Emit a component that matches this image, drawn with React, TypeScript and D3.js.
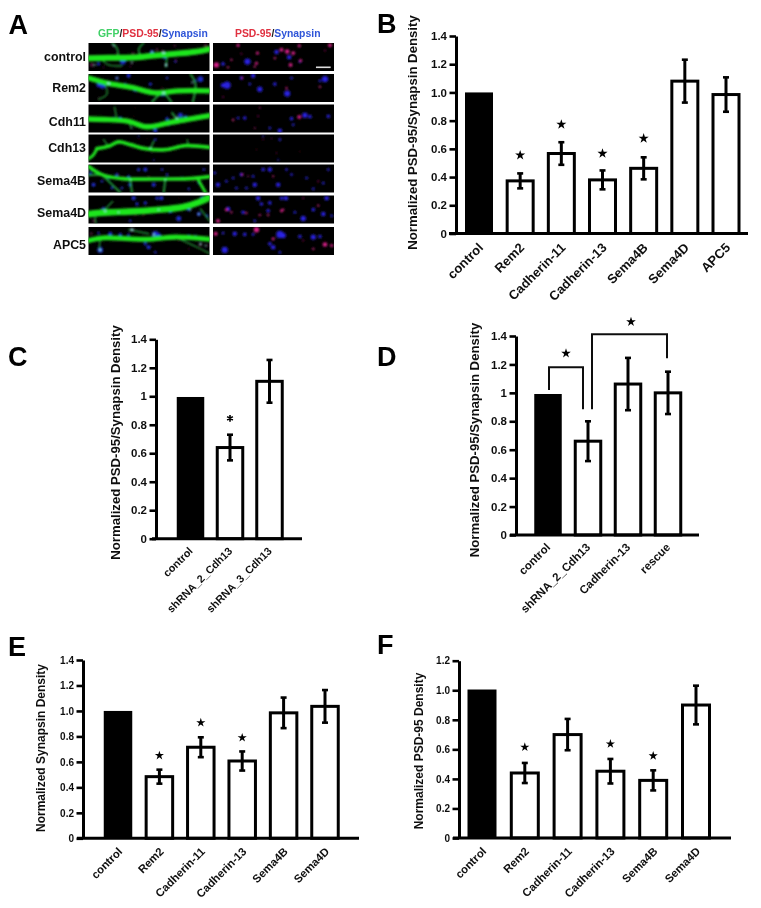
import React, { useEffect, useRef } from "react";
import * as d3 from "d3";

const FONT = "'Liberation Sans', Arial, sans-serif";

// ---------- bar chart data ----------
const bCategories = ["control", "Rem2", "Cadherin-11", "Cadherin-13", "Sema4B", "Sema4D", "APC5"];
const bValues = [1.0, 0.373, 0.567, 0.38, 0.462, 1.08, 0.985];
const bErrors = [0, 0.053, 0.08, 0.067, 0.078, 0.152, 0.122];
const bStars = [null, 0.555, 0.773, 0.567, 0.674, null, null];

const cCategories = ["control", "shRNA_2_Cdh13", "shRNA_3_Cdh13"];
const cValues = [0.995, 0.64, 1.105];
const cErrors = [0, 0.09, 0.15];
const cStars = [null, 0.845, null];

const dCategories = ["control", "shRNA_2_Cdh13", "Cadherin-13", "rescue"];
const dValues = [0.992, 0.66, 1.062, 1.0];
const dErrors = [0, 0.14, 0.184, 0.149];
const dStars = [null, null, null, null];
const dBracketLevels = { a0: 1.02, aTop: 1.18, a1: 0.884, b0: 0.884, bTop: 1.412, b1: 1.243, starA: 1.278, starB: 1.5 };

const eCategories = ["control", "Rem2", "Cadherin-11", "Cadherin-13", "Sema4B", "Sema4D"];
const eValues = [1.0, 0.484, 0.715, 0.607, 0.985, 1.036];
const eErrors = [0, 0.055, 0.078, 0.075, 0.12, 0.128];
const eStars = [null, 0.65, 0.908, 0.79, null, null];

const fCategories = ["control", "Rem2", "Cadherin-11", "Cadherin-13", "Sema4B", "Sema4D"];
const fValues = [1.005, 0.44, 0.7, 0.452, 0.39, 0.9];
const fErrors = [0, 0.068, 0.106, 0.083, 0.068, 0.131];
const fStars = [null, 0.615, null, 0.637, 0.556, null];

const ticks14 = [0, 0.2, 0.4, 0.6, 0.8, 1.0, 1.2, 1.4];
const ticks12 = [0, 0.2, 0.4, 0.6, 0.8, 1.0, 1.2];

// ---------- micrograph data (image units: 362 wide, 83 tall) ----------
type Pt = [number, number];
type Spot = [number, number, number];
const rowNames = ["control", "Rem2", "Cdh11", "Cdh13", "Sema4B", "Sema4D", "APC5"];
const rowLabelY = [56, 87, 121, 147, 180, 212, 244];

const dendrites: { w: number; pts: Pt[] }[][] = [
  [
    { w: 5, pts: [[70, 0], [85, 15], [88, 42]] },
    { w: 5, pts: [[160, 42], [150, 20], [165, 0]] },
    { w: 5, pts: [[235, 35], [232, 70]] },
    { w: 4, pts: [[40, 50], [60, 65], [100, 68]] },
    { w: 18, pts: [[0, 45], [60, 44], [130, 43], [190, 38], [260, 32], [320, 26], [362, 18]] },
  ],
  [
    { w: 6, pts: [[190, 83], [222, 58], [248, 83]] },
    { w: 6, pts: [[305, 0], [320, 30], [312, 83]] },
    { w: 4, pts: [[50, 30], [55, 60], [30, 75]] },
    { w: 16, pts: [[0, 12], [60, 28], [130, 40], [200, 56], [270, 50], [362, 50]] },
  ],
  [
    { w: 4, pts: [[78, 8], [85, 45]] },
    { w: 6, pts: [[250, 25], [265, 45]] },
    { w: 4, pts: [[120, 50], [128, 70]] },
    { w: 16, pts: [[0, 43], [60, 45], [120, 50], [175, 66], [250, 52], [310, 42], [362, 33]] },
  ],
  [
    { w: 4, pts: [[60, 35], [45, 15]] },
    { w: 5, pts: [[185, 42], [195, 20]] },
    { w: 4, pts: [[300, 35], [295, 15]] },
    { w: 11, pts: [[25, 42], [60, 35], [90, 22], [125, 30], [170, 42], [230, 45], [290, 33], [362, 38]] },
    { w: 9, pts: [[0, 72], [15, 60], [25, 42]] },
  ],
  [
    { w: 6, pts: [[0, 32], [40, 30]] },
    { w: 6, pts: [[40, 30], [95, 83]] },
    { w: 6, pts: [[125, 42], [130, 83]] },
    { w: 6, pts: [[230, 43], [225, 83]] },
    { w: 9, pts: [[325, 40], [350, 83]] },
    { w: 11, pts: [[0, 6], [40, 30], [100, 42], [200, 43], [300, 42], [362, 36]] },
  ],
  [
    { w: 4, pts: [[72, 18], [48, 42]] },
    { w: 4, pts: [[20, 65], [22, 83]] },
    { w: 4, pts: [[335, 40], [362, 75]] },
    { w: 20, pts: [[0, 55], [60, 50], [120, 48], [200, 43], [280, 35], [330, 20], [362, 5]] },
  ],
  [
    { w: 4, pts: [[260, 30], [325, 60], [362, 78]] },
    { w: 4, pts: [[35, 35], [32, 65]] },
    { w: 4, pts: [[120, 8], [180, 20]] },
    { w: 15, pts: [[0, 40], [50, 32], [120, 35], [180, 36], [260, 30], [362, 36]] },
  ],
];

const blueSpots: Spot[][] = [
  [[103, 55, 7], [190, 27, 5], [228, 42, 5], [30, 62, 4], [260, 55, 3]],
  [[42, 33, 8], [30, 33, 5], [85, 12, 4], [120, 5, 5], [140, 45, 6], [222, 58, 7], [185, 30, 4], [335, 15, 7], [320, 20, 3], [235, 12, 3], [110, 30, 3]],
  [[75, 40, 3], [95, 40, 4], [200, 78, 5], [235, 42, 4], [275, 32, 6], [290, 36, 4], [345, 35, 4], [170, 70, 3], [240, 60, 3]],
  [[200, 15, 3], [150, 5, 2], [195, 75, 2]],
  [[85, 30, 4], [120, 35, 3], [150, 15, 4], [170, 15, 5], [125, 60, 5], [15, 60, 5], [195, 60, 5], [300, 72, 3], [220, 15, 3], [345, 15, 3], [60, 40, 3], [40, 50, 3], [5, 25, 3], [235, 30, 3], [100, 70, 3], [280, 40, 3], [330, 55, 3], [70, 70, 3]],
  [[135, 8, 5], [145, 25, 4], [170, 22, 4], [205, 8, 4], [218, 8, 5], [45, 40, 5], [90, 50, 4], [165, 45, 4], [270, 68, 6], [300, 42, 4], [330, 55, 5], [355, 60, 3], [340, 8, 5], [125, 75, 3], [245, 50, 3]],
  [[30, 18, 3], [65, 20, 5], [95, 22, 4], [120, 22, 3], [200, 22, 8], [210, 25, 6], [260, 28, 4], [300, 30, 6], [320, 28, 4], [35, 68, 7], [170, 50, 4], [180, 60, 5], [200, 75, 3]],
];
const pinkSpots: Spot[][] = [
  [[10, 65, 7], [75, 7, 4], [133, 30, 4], [130, 60, 4], [205, 20, 5], [222, 25, 6], [240, 30, 5], [232, 65, 5], [258, 8, 4], [350, 7, 5], [262, 52, 4], [55, 50, 3], [185, 45, 3], [85, 32, 2], [335, 22, 2], [45, 72, 3], [125, 70, 3]],
  [[220, 42, 3], [320, 38, 3], [30, 68, 2], [88, 12, 2.5]],
  [[258, 37, 5], [60, 46, 3], [125, 70, 2], [140, 10, 2], [135, 35, 2]],
  [[150, 15, 2], [175, 12, 2], [190, 55, 2], [130, 45, 1.5], [260, 50, 1.5]],
  [[180, 35, 2.5], [105, 35, 2], [315, 50, 2], [88, 30, 3]],
  [[15, 75, 5], [40, 42, 4], [55, 50, 3], [100, 52, 3], [140, 58, 3], [165, 58, 3], [205, 45, 4], [210, 42, 3], [315, 30, 3], [270, 8, 2]],
  [[8, 20, 5], [130, 8, 7], [180, 35, 4], [335, 52, 6], [355, 55, 4], [300, 65, 3], [270, 40, 2]],
];
const cyanSpots: Spot[][] = [
  [[225, 28, 5], [232, 65, 5], [190, 25, 3], [130, 58, 3], [18, 65, 3], [75, 8, 3]],
  [[60, 28, 5], [225, 56, 5], [85, 12, 3], [310, 25, 3]],
  [[265, 40, 4], [130, 70, 2]],
  [[185, 40, 3]],
  [[125, 45, 3], [230, 45, 3]],
  [[50, 45, 4], [90, 50, 3], [210, 42, 3], [305, 42, 3], [330, 55, 3]],
  [[130, 8, 5], [35, 68, 4], [195, 22, 4], [335, 50, 4], [350, 55, 3]],
];

// ---------- layout ----------
const LEFT_X = 88.5;
const RIGHT_X = 213;
const IMG_W = 121;
const ROW_TOPS = [43, 74, 104.5, 134.5, 164.5, 195.5, 227];
const ROW_H = 28;

const greenLine = d3.line<Pt>().curve(d3.curveCatmullRom);

function Micrograph({ x0, row, col }: { x0: number; row: number; col: "merge" | "red" }) {
  const y0 = ROW_TOPS[row];
  const sx = d3.scaleLinear().domain([0, 362]).range([0, IMG_W]);
  const sy = d3.scaleLinear().domain([0, 83]).range([0, ROW_H]);
  const clip = `clip-${col}-${row}`;
  const project = (p: Pt): Pt => [sx(p[0]), sy(p[1])];
  const spots = (list: Spot[], fill: string, scale: number, op: number) =>
    list.map((s, i) => <circle key={fill + i} cx={sx(s[0])} cy={sy(s[1])} r={sx(s[2]) * scale} fill={fill} opacity={op} />);
  return (
    <g transform={`translate(${x0},${y0})`}>
      <clipPath id={clip}><rect width={IMG_W} height={ROW_H} /></clipPath>
      <rect width={IMG_W} height={ROW_H} fill="#000" />
      <g clipPath={`url(#${clip})`} filter="url(#imgBlur)">
        {col === "red" ? (
          <>
            {spots(blueSpots[row], "#2a22e8", 1.35, 0.95)}
            {spots(pinkSpots[row], "#e0208e", 1.15, row === 3 ? 0.55 : 0.95)}
          </>
        ) : (
          <>
            {spots(blueSpots[row], "#2030e0", 1.25, 0.9)}
            {spots(pinkSpots[row], "#a02070", 0.8, 0.6)}
            {dendrites[row].map((d, i) => (
              <path key={i} d={greenLine(d.pts.map(project)) || ""} fill="none" stroke={d.w < 8 ? "#1f9a3a" : "#1fe61f"} strokeWidth={sx(d.w)} strokeLinecap="round" />
            ))}
            {spots(cyanSpots[row], "#8fe8e0", 0.9, 0.9)}
          </>
        )}
      </g>
    </g>
  );
}

function PanelA() {
  const barX = d3.scaleLinear().domain([0, 362]).range([RIGHT_X, RIGHT_X + IMG_W]);
  return (
    <g fontFamily={FONT} fontWeight="bold">
      <text x={98} y={36.5} fontSize={10.4}>
        <tspan fill="#3fd066">GFP</tspan><tspan fill="#222">/</tspan><tspan fill="#e03040">PSD-95</tspan><tspan fill="#222">/</tspan><tspan fill="#2f55d8">Synapsin</tspan>
      </text>
      <text x={235} y={36.5} fontSize={10.4}>
        <tspan fill="#e03040">PSD-95</tspan><tspan fill="#222">/</tspan><tspan fill="#2f55d8">Synapsin</tspan>
      </text>
      {rowNames.map((n, i) => (
        <g key={n}>
          <text x={86} y={rowLabelY[i] + 4.5} textAnchor="end" fontSize={12.4} fill="#111">{n}</text>
          <Micrograph x0={LEFT_X} row={i} col="merge" />
          <Micrograph x0={RIGHT_X} row={i} col="red" />
        </g>
      ))}
      <rect x={barX(308)} y={ROW_TOPS[0] + 23.5} width={barX(352) - barX(308)} height={1.6} fill="#ddd" />
    </g>
  );
}

// ---------- bar charts ----------
interface PanelProps {
  cats: string[];
  vals: number[];
  errs: number[];
  stars: (number | null)[];
  tickVals: number[];
  fmt: (v: number) => string;
  axisX: number;
  y0: number;
  yTop: number;
  yMax: number;
  xRange: [number, number];
  xLineEnd: number;
  centers: [number, number];
  barW: number;
  title: string;
  titleX: number;
  titleY: number;
  titleSize: number;
  tickSize: number;
  labelSize: number;
  labelDx: number;
  labelDy: number;
  starR: number;
  asterisk?: boolean;
  extra?: (x: d3.ScalePoint<string>, y: d3.ScaleLinear<number, number>) => React.ReactNode;
}

function starPath(r: number, asterisk?: boolean) {
  return d3.symbol().type(asterisk ? d3.symbolAsterisk : d3.symbolStar).size(asterisk ? r * r * 3 : r * r * 1.8)() || "";
}

function BarPanel(p: PanelProps) {
  const axisRef = useRef<SVGGElement>(null);
  const x = d3.scalePoint<string>().domain(p.cats).range(p.centers);
  const y = d3.scaleLinear().domain([0, p.yMax]).range([p.y0, p.yTop]);
  useEffect(() => {
    if (!axisRef.current) return;
    const g = d3.select(axisRef.current);
    g.call(d3.axisLeft(y).tickValues(p.tickVals).tickFormat((v) => p.fmt(+v)).tickSize(6.5).tickSizeOuter(0).tickPadding(2.5) as any);
    g.selectAll("path.domain").attr("stroke", "#000").attr("stroke-width", 3);
    g.selectAll(".tick line").attr("stroke", "#000").attr("stroke-width", 2.6);
    g.selectAll(".tick text").attr("fill", "#111").attr("font-size", p.tickSize).attr("font-weight", "bold").attr("font-family", FONT);
  });
  const capW = 3;
  return (
    <g fontFamily={FONT} fontWeight="bold" fill="#111">
      <text transform={`translate(${p.titleX},${p.titleY}) rotate(-90)`} textAnchor="middle" fontSize={p.titleSize}>{p.title}</text>
      {p.cats.map((c, i) => {
        const cx = x(c) as number;
        const filled = i === 0;
        const w = filled ? p.barW - 1 : p.barW - 3;
        return (
          <g key={c}>
            <rect x={cx - w / 2} y={y(p.vals[i])} width={w} height={p.y0 - y(p.vals[i])} fill={filled ? "#000" : "#fff"} stroke={filled ? "none" : "#000"} strokeWidth={3} />
            {p.errs[i] > 0 && (
              <g stroke="#000" fill="none">
                <line x1={cx} x2={cx} y1={y(p.vals[i] + p.errs[i])} y2={y(p.vals[i] - p.errs[i])} strokeWidth={3} />
                <line x1={cx - capW} x2={cx + capW} y1={y(p.vals[i] + p.errs[i])} y2={y(p.vals[i] + p.errs[i])} strokeWidth={2.6} />
                <line x1={cx - capW} x2={cx + capW} y1={y(p.vals[i] - p.errs[i])} y2={y(p.vals[i] - p.errs[i])} strokeWidth={2.6} />
              </g>
            )}
            {p.stars[i] != null && (
              <path transform={`translate(${cx},${y(p.stars[i] as number)})`} d={starPath(p.starR, p.asterisk)} fill={p.asterisk ? "none" : "#000"} stroke={p.asterisk ? "#000" : "none"} strokeWidth={p.asterisk ? 1.6 : 0} />
            )}
            <text transform={`translate(${cx + p.labelDx},${p.y0 + p.labelDy}) rotate(-45)`} textAnchor="end" fontSize={p.labelSize}>{c}</text>
          </g>
        );
      })}
      {p.extra && p.extra(x, y)}
      <line x1={p.xRange[0]} x2={p.xLineEnd} y1={p.y0} y2={p.y0} stroke="#000" strokeWidth={3} />
      <g ref={axisRef} transform={`translate(${p.axisX},0)`} />
    </g>
  );
}

const fmt1 = (v: number) => (v === 0 ? "0" : v.toFixed(1));
const fmtTrim = (v: number) => (v === 0 ? "0" : v === 1 ? "1" : v.toFixed(1));

function dExtra(x: d3.ScalePoint<string>, y: d3.ScaleLinear<number, number>) {
  const L = dBracketLevels;
  const c0 = x("control") as number;
  const c1 = x("shRNA_2_Cdh13") as number;
  const c3 = x("rescue") as number;
  const path = d3.path();
  path.moveTo(c0 + 1, y(L.a0));
  path.lineTo(c0 + 1, y(L.aTop));
  path.lineTo(c1 - 5, y(L.aTop));
  path.lineTo(c1 - 5, y(L.a1));
  path.moveTo(c1 + 4, y(L.b0));
  path.lineTo(c1 + 4, y(L.bTop));
  path.lineTo(c3 - 1, y(L.bTop));
  path.lineTo(c3 - 1, y(L.b1));
  return (
    <g>
      <path d={path.toString()} fill="none" stroke="#111" strokeWidth={2} />
      <path transform={`translate(${(c0 + c1) / 2 - 2},${y(L.starA)})`} d={starPath(4)} fill="#000" />
      <path transform={`translate(${(c1 + c3) / 2 + 3},${y(L.starB)})`} d={starPath(4)} fill="#000" />
    </g>
  );
}

function Letter({ t, x, y }: { t: string; x: number; y: number }) {
  return <text x={x} y={y} fontFamily={FONT} fontWeight="bold" fontSize={27} fill="#000">{t}</text>;
}

export default function App() {
  return (
    <svg width={761} height={908} viewBox="0 0 761 908" style={{ position: "absolute", left: 0, top: 0, display: "block", background: "#fff" }}>
      <defs>
        <filter id="imgBlur" x="-5%" y="-5%" width="110%" height="110%"><feGaussianBlur stdDeviation="0.8" /></filter>
        <filter id="soft" x="0" y="0" width="100%" height="100%" filterUnits="userSpaceOnUse"><feGaussianBlur stdDeviation="0.3" /></filter>
      </defs>
      <g filter="url(#soft)">
        <rect width={761} height={908} fill="#fff" />
        <Letter t="A" x={8.5} y={34} />
        <Letter t="B" x={377} y={33} />
        <Letter t="C" x={8} y={366} />
        <Letter t="D" x={377} y={366} />
        <Letter t="E" x={8} y={656} />
        <Letter t="F" x={377} y={654} />
        <PanelA />
        <BarPanel cats={bCategories} vals={bValues} errs={bErrors} stars={bStars} tickVals={ticks14} fmt={fmt1}
          axisX={456} y0={233.5} yTop={36} yMax={1.4} xRange={[449, 748]} xLineEnd={748} centers={[479, 726]} barW={29}
          title="Normalized PSD-95/Synapsin Density" titleX={417} titleY={132.5} titleSize={13.2} tickSize={11.5} labelSize={13} labelDx={5} labelDy={15} starR={4.2} />
        <BarPanel cats={cCategories} vals={cValues} errs={cErrors} stars={cStars} tickVals={ticks14} fmt={fmtTrim}
          axisX={156} y0={538.7} yTop={339.3} yMax={1.4} xRange={[152, 302]} xLineEnd={302} centers={[190.5, 269.5]} barW={28.5}
          title="Normalized PSD-95/Synapsin Density" titleX={120} titleY={442.5} titleSize={13.2} tickSize={11.5} labelSize={10.8} labelDx={3} labelDy={13} starR={3.2} asterisk />
        <BarPanel cats={dCategories} vals={dValues} errs={dErrors} stars={dStars} tickVals={ticks14} fmt={fmtTrim}
          axisX={516} y0={535} yTop={336} yMax={1.4} xRange={[510, 699]} xLineEnd={699} centers={[548, 668]} barW={28.5}
          title="Normalized PSD-95/Synapsin Density" titleX={479} titleY={440} titleSize={13.2} tickSize={11.5} labelSize={11.5} labelDx={3} labelDy={13} starR={4}
          extra={dExtra} />
        <BarPanel cats={eCategories} vals={eValues} errs={eErrors} stars={eStars} tickVals={ticks14} fmt={fmt1}
          axisX={83} y0={838.3} yTop={660} yMax={1.4} xRange={[77, 359]} xLineEnd={359} centers={[118, 325]} barW={29.5}
          title="Normalized Synapsin Density" titleX={45} titleY={748} titleSize={12} tickSize={10} labelSize={11.3} labelDx={5} labelDy={14} starR={3.8} />
        <BarPanel cats={fCategories} vals={fValues} errs={fErrors} stars={fStars} tickVals={ticks12} fmt={fmt1}
          axisX={459} y0={838} yTop={660.7} yMax={1.2} xRange={[453, 731]} xLineEnd={731} centers={[482, 696]} barW={30}
          title="Normalized PSD-95 Density" titleX={423} titleY={751} titleSize={12} tickSize={10} labelSize={11.3} labelDx={5} labelDy={14} starR={3.8} />
      </g>
    </svg>
  );
}
